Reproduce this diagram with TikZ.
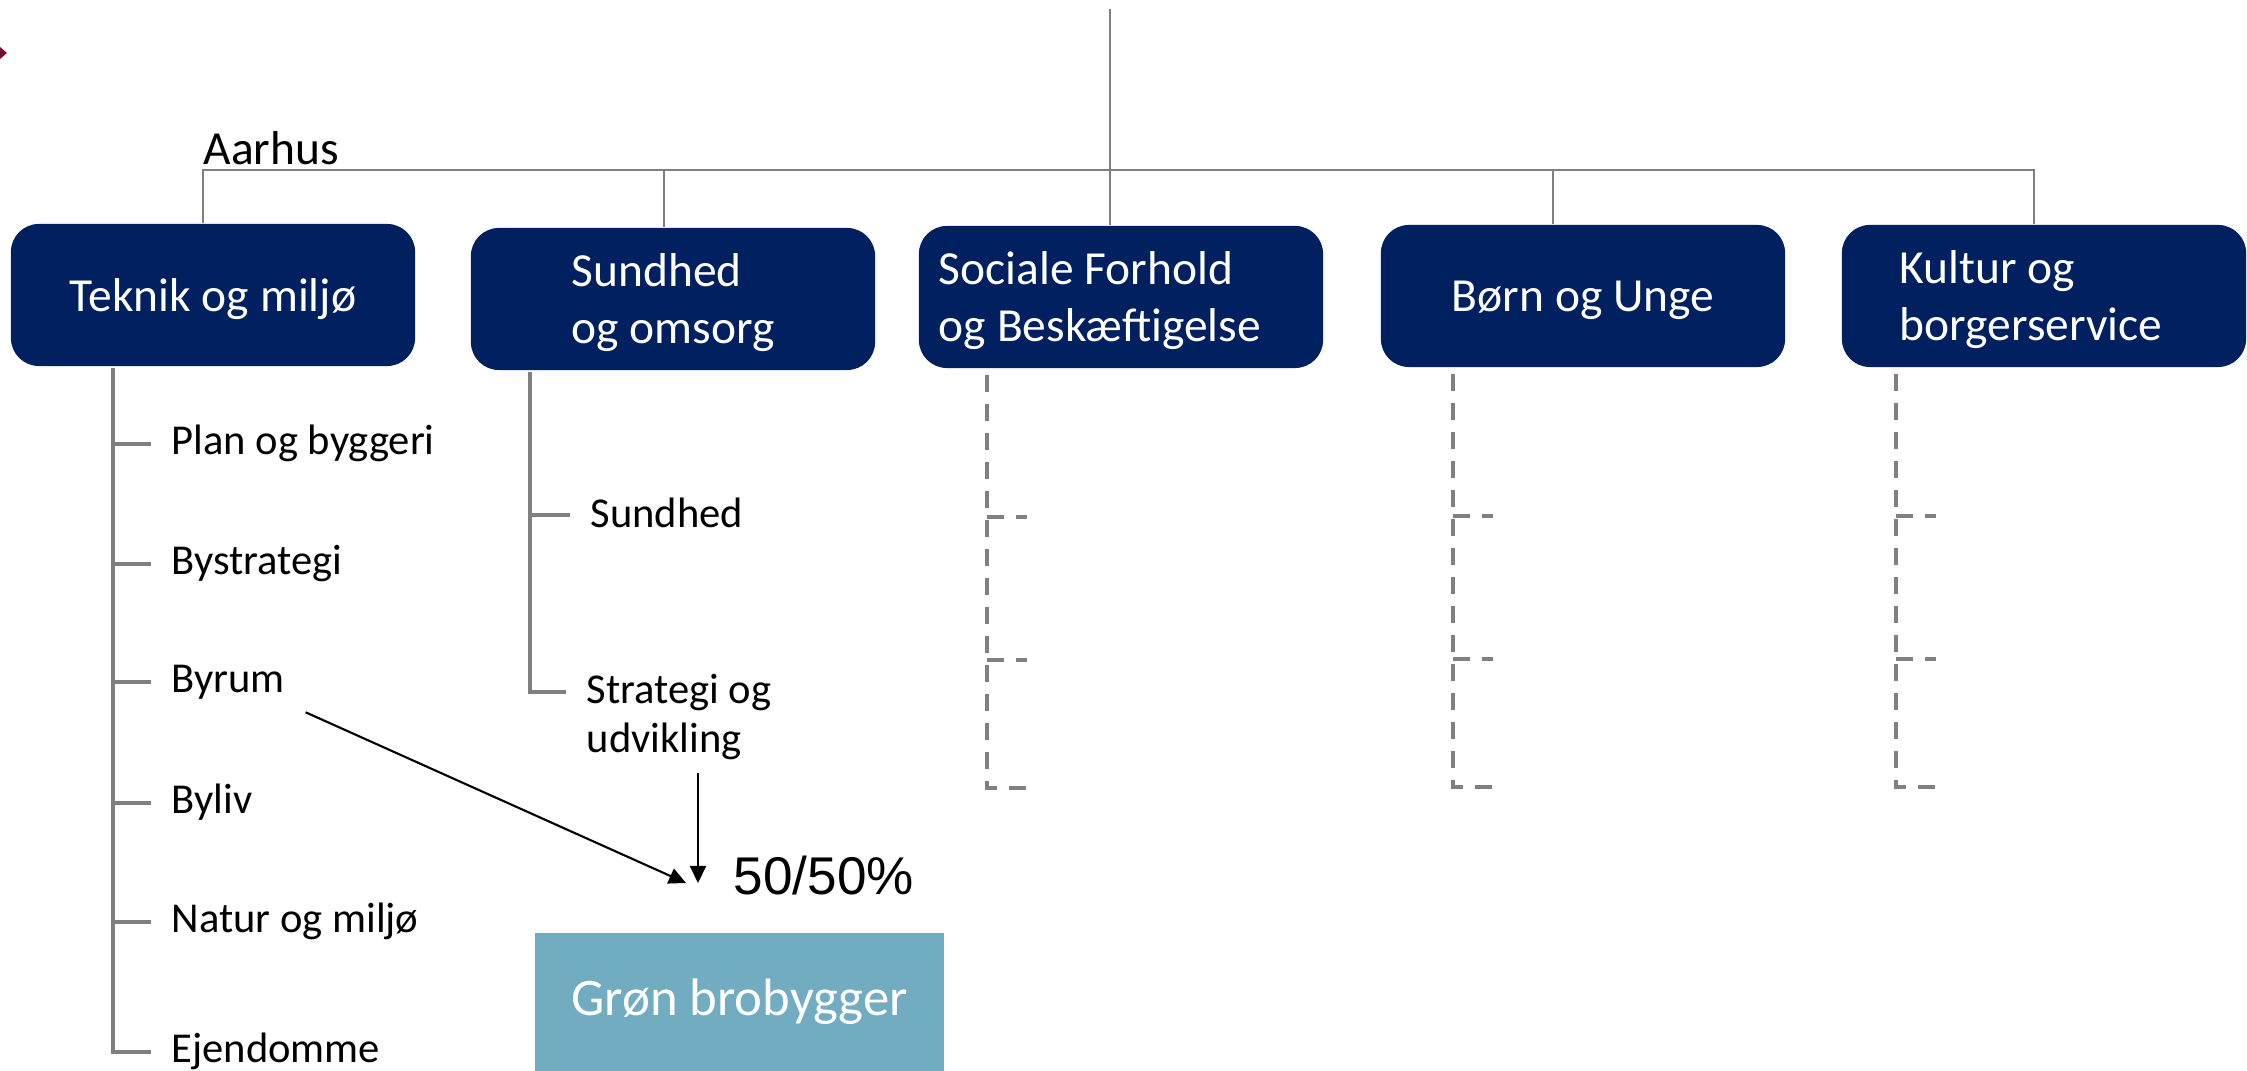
\documentclass[tikz,border=0pt]{standalone}
\usepackage{fontspec}
\setmainfont{Carlito}
\newfontfamily\arialfont{Liberation Sans}
\usetikzlibrary{arrows.meta}
\definecolor{deptblue}{RGB}{0,32,96}
\definecolor{brogreen}{RGB}{114,172,192}
\definecolor{linegray}{RGB}{128,128,128}
\definecolor{markred}{RGB}{122,10,54}

\begin{document}
\begin{tikzpicture}[x=0.01cm, y=-0.01cm,
    dept/.style={rectangle, rounded corners=0.28cm, fill=deptblue, text=white, text depth=0pt,
        minimum width=4.04cm, minimum height=1.42cm, font=\fontsize{13.5}{16.2}\selectfont},
    deptwide/.style={dept, align=flush left, text width=#1, text depth=16.2pt},
    unit/.style={anchor=base west, inner xsep=0.2cm, font=\fontsize{12.1}{14.2}\selectfont},
    link/.style={draw=linegray, line width=0.7pt},
    trunk/.style={draw=linegray, line width=1.15pt},
    stub/.style={draw=linegray, line width=1.1pt, dash pattern=on 0.17cm off 0.12cm},
    arr/.style={-{Triangle[length=0.17cm, width=0.16cm]}, line width=0.6pt}]
    \useasboundingbox (0,0) rectangle (2247,1071);

    \fill[markred] (0,47) -- (7,53) -- (0,59) -- cycle;
    \node[anchor=base west, inner sep=0pt, font=\fontsize{13.5}{16}\selectfont] (aarhus) at (203,165) {Aarhus};

    \node[dept] (teknik) at (213,295) {Teknik og miljø};
    \node[dept, align=left] (sundhed) at (673,299) {Sundhed\\og omsorg};
    \node[deptwide=3.64cm] (sociale) at (1121,297) {Sociale Forhold\\og Beskæftigelse};
    \node[dept] (boern) at (1583,296) {Børn og Unge};
    \node[deptwide=2.88cm] (kultur) at (2044,296) {Kultur og\\borgerservice};

    \node[unit] (plan) at (151,455) {Plan og byggeri};
    \node[unit] (bystrategi) at (151,575) {Bystrategi};
    \node[unit] (byrum) at (151,693) {Byrum};
    \node[unit] (byliv) at (151,814) {Byliv};
    \node[unit] (natur) at (151,933) {Natur og miljø};
    \node[unit] (ejendomme) at (151,1063) {Ejendomme};
    \node[unit] (sundh) at (570,528) {Sundhed};
    \node[unit, align=left] (strategi) at (566,753) {Strategi og\\udvikling};

    \node[anchor=base west, inner sep=0pt, font=\arialfont\fontsize{15.1}{18}\selectfont] (pct) at (733,895) {50/50\%};
    \node[rectangle, fill=brogreen, text=white, minimum width=4.09cm, minimum height=1.38cm,
        font=\fontsize{15}{17}\selectfont] (gron) at (739.5,1002) {Grøn brobygger};

    \coordinate (top) at (1110,9);
    \coordinate (barL) at (203,170);
    \coordinate (barR) at (2034,170);
    \draw[link] (top) -- (top |- sociale.north);
    \draw[link] (barL |- teknik.north) -- (barL) -- (barR) -- (barR |- kultur.north);
    \foreach \b/\x in {sundhed/664, boern/1553}
        \draw[link] (\x,170) -- (\x,170 |- \b.north);

    \coordinate (tk) at (113,368);
    \coordinate (sk) at (530,372);
    \draw[trunk] (tk) |- ([yshift=0.11cm]ejendomme.base west);
    \draw[trunk] (sk) |- ([yshift=0.61cm]strategi.base west);
    \foreach \u in {plan,bystrategi,byrum,byliv,natur} {
        \path ([yshift=0.11cm]\u.base west) coordinate (t\u);
        \draw[trunk] (t\u) -- (tk |- t\u);
    }
    \path ([yshift=0.13cm]sundh.base west) coordinate (tsundh);
    \draw[trunk] (tsundh) -- (sk |- tsundh);

    \foreach \b/\x in {sociale/987, boern/1453, kultur/1896} {
        \path (\b.south -| \x,0) ++(0,6) coordinate (s\b);
        \draw[stub] (s\b) -- ++(0,413) -- ++(40,0);
        \draw[stub] ([yshift=-1.42cm]s\b) -- ++(40,0);
        \draw[stub] ([yshift=-2.85cm]s\b) -- ++(40,0);
    }

    \coordinate (inA) at (686,883);
    \coordinate (inB) at (698,883);
    \draw[arr] (byrum.south east) -- (inA);
    \draw[arr] (strategi.south -| inB) -- (inB);
\end{tikzpicture}
\end{document}
